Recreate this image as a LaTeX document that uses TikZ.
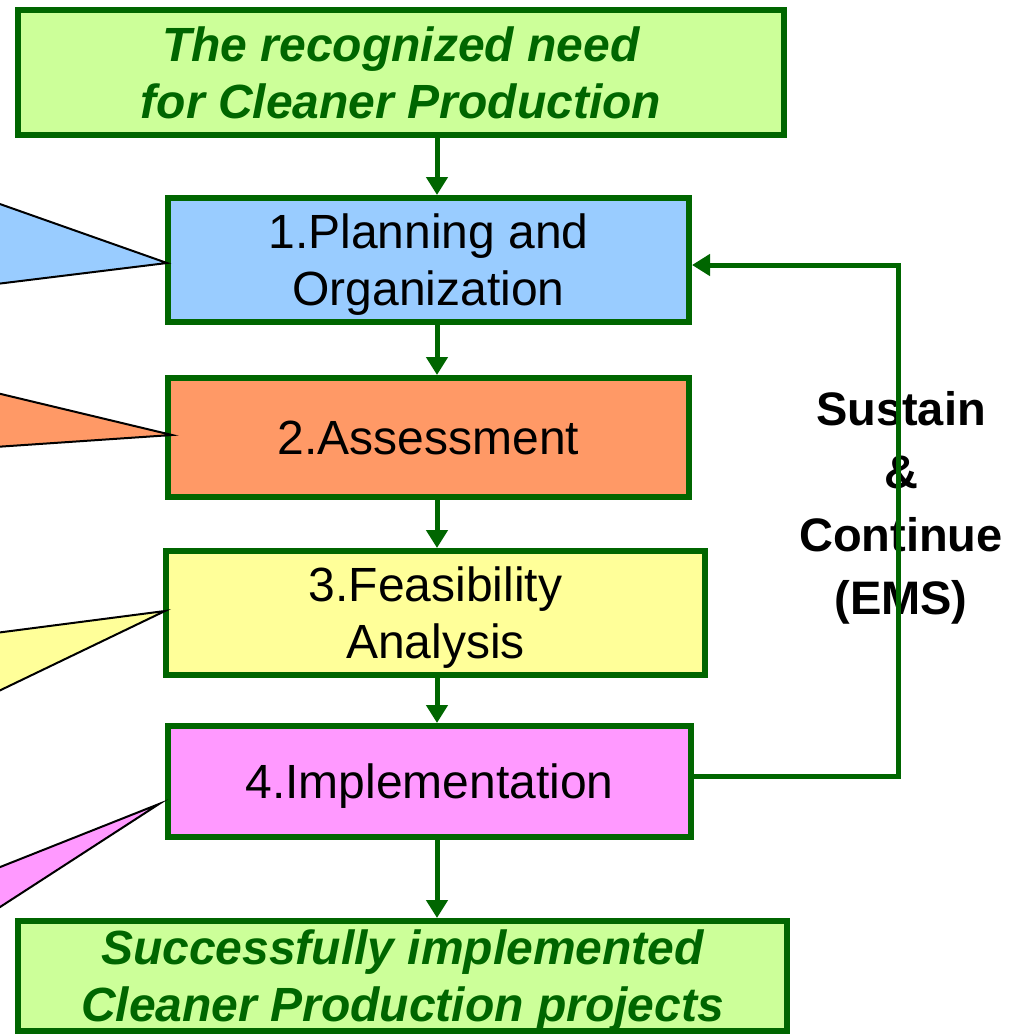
\documentclass[tikz,border=0pt]{standalone}
\usepackage{fontspec}
\setmainfont{Liberation Sans}
\usetikzlibrary{arrows.meta}
\definecolor{cpgreen}{HTML}{006600}
\definecolor{limefill}{HTML}{CCFF99}
\definecolor{bluefill}{HTML}{99CCFF}
\definecolor{orangefill}{HTML}{FF9966}
\definecolor{yellowfill}{HTML}{FFFF99}
\definecolor{pinkfill}{HTML}{FF99FF}
\tikzset{
  stage/.style={draw=cpgreen, line width=6pt, align=center, inner sep=0pt,
    text depth=0pt, font=\fontsize{48}{57}\selectfont},
  goal/.style={stage, fill=limefill, text=cpgreen,
    font=\fontsize{48}{57}\selectfont\bfseries\itshape},
  flow/.style={draw=cpgreen, line width=5pt, -{Triangle[length=18pt,width=21pt]}},
  wedge/.style={draw=black, line width=2pt, miter limit=20},
}

\begin{document}
\begin{tikzpicture}[x=1pt,y=-1pt]
         \useasboundingbox (0,0) rectangle (1010,1034);

         % the stages
         \node [goal, minimum width=766, minimum height=125] (need) at (401,72.5)
               {The recognized need\\for Cleaner Production};
         \node [stage, fill=bluefill, minimum width=521, minimum height=124] (plan) at (428.5,260)
               {1.Planning and\\Organization};
         \node [stage, fill=orangefill, minimum width=521, minimum height=119] (assess) at (428.5,437.5)
               {2.Assessment};
         \node [stage, fill=yellowfill, minimum width=539, minimum height=124] (feas) at (435.5,613)
               {3.Feasibility\\Analysis};
         \node [stage, fill=pinkfill, minimum width=523, minimum height=111] (impl) at (429.5,781.5)
               {4.Implementation};
         \node [goal, minimum width=769, minimum height=110] (done) at (402.5,976)
               {Successfully implemented\\Cleaner Production projects};

         % wedges coming in from the left
         \filldraw [wedge, fill=bluefill] (167,263) -- (-20,197) -- (-20,286) -- cycle;
         \filldraw [wedge, fill=orangefill] (172,435) -- (-20,389) -- (-20,448) -- cycle;
         \filldraw [wedge, fill=yellowfill] (165,611) -- (-20,635) -- (-20,700) -- cycle;
         \filldraw [wedge, fill=pinkfill] (159,804) -- (-20,875) -- (-20,920) -- cycle;

         % main flow
         \draw [flow] (need.south -| 437,0) -- (plan.north -| 437,0);
         \draw [flow] (plan.south -| 437,0) -- (assess.north -| 437,0);
         \draw [flow] (assess.south -| 437,0) -- (feas.north -| 437,0);
         \draw [flow] (feas.south -| 437,0) -- (impl.north -| 437,0);
         \draw [flow] (impl.south -| 437,0) -- (done.north -| 437,0);

         % feedback loop
         \node [align=center, font=\fontsize{47}{63}\selectfont\bfseries] (loop) at (901,508)
               {Sustain\\\&\\Continue\\(EMS)};
         \coordinate (turn) at (898,776);
         \draw [flow] (impl.east |- turn) -- (turn) -- (turn |- 0,265) -- (plan.east |- 0,265);
       \end{tikzpicture}
\end{document}
